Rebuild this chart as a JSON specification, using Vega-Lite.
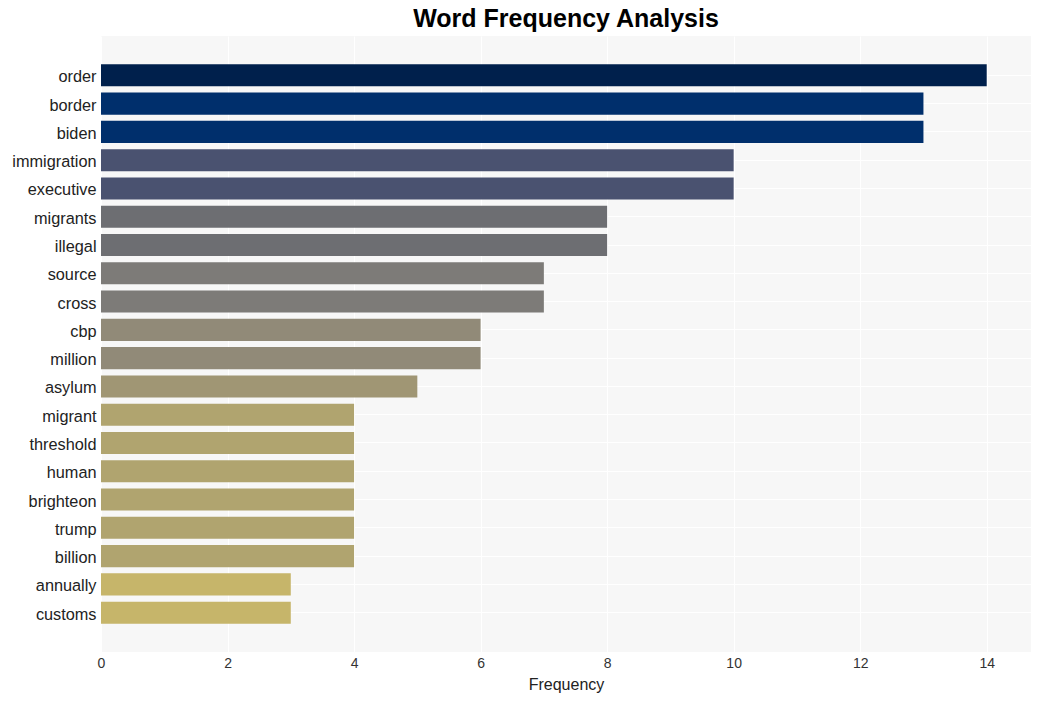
{
  "$schema": "https://vega.github.io/schema/vega-lite/v6.json",
  "width": 930,
  "height": 616,
  "autosize": {"type": "none"},
  "padding": {"left": 101, "top": 36, "right": 10, "bottom": 49},
  "background": "white",
  "title": {"text": "Word Frequency Analysis", "font": "Liberation Sans", "fontSize": 25, "fontWeight": "bold", "color": "#000000", "anchor": "middle", "offset": 4},
  "config": {
    "view": {"fill": "#f7f7f7", "stroke": null},
    "axis": {"gridColor": "#ffffff", "gridWidth": 1, "domain": false, "ticks": false, "labelFont": "Liberation Sans", "titleFont": "Liberation Sans"}
  },
  "data": {"values": [
    {"word": "order", "freq": 14},
    {"word": "border", "freq": 13},
    {"word": "biden", "freq": 13},
    {"word": "immigration", "freq": 10},
    {"word": "executive", "freq": 10},
    {"word": "migrants", "freq": 8},
    {"word": "illegal", "freq": 8},
    {"word": "source", "freq": 7},
    {"word": "cross", "freq": 7},
    {"word": "cbp", "freq": 6},
    {"word": "million", "freq": 6},
    {"word": "asylum", "freq": 5},
    {"word": "migrant", "freq": 4},
    {"word": "threshold", "freq": 4},
    {"word": "human", "freq": 4},
    {"word": "brighteon", "freq": 4},
    {"word": "trump", "freq": 4},
    {"word": "billion", "freq": 4},
    {"word": "annually", "freq": 3},
    {"word": "customs", "freq": 3}
  ]},
  "mark": {"type": "bar"},
  "encoding": {
    "y": {"field": "word", "type": "nominal", "sort": null,
      "scale": {"paddingInner": 0.22, "paddingOuter": 1},
      "axis": {"title": null, "labelFontSize": 16.3, "labelColor": "#222222", "labelPadding": 5, "labelOffset": 2, "grid": true}},
    "x": {"field": "freq", "type": "quantitative",
      "scale": {"domain": [0, 14.7], "nice": false},
      "axis": {"title": "Frequency", "values": [0, 2, 4, 6, 8, 10, 12, 14], "labelFlush": false, "labelFontSize": 14, "labelColor": "#333333", "labelPadding": 4, "titleFontSize": 16, "titleFontWeight": "normal", "titleColor": "#222222", "titlePadding": 6, "grid": true}},
    "color": {"field": "freq", "type": "ordinal", "legend": null,
      "scale": {"domain": [14, 13, 10, 8, 7, 6, 5, 4, 3],
        "range": ["#00204c", "#002f6c", "#4a5270", "#6d6e72", "#7d7b78", "#918a78", "#a09674", "#b0a46f", "#c6b56a"]}}
  }
}
